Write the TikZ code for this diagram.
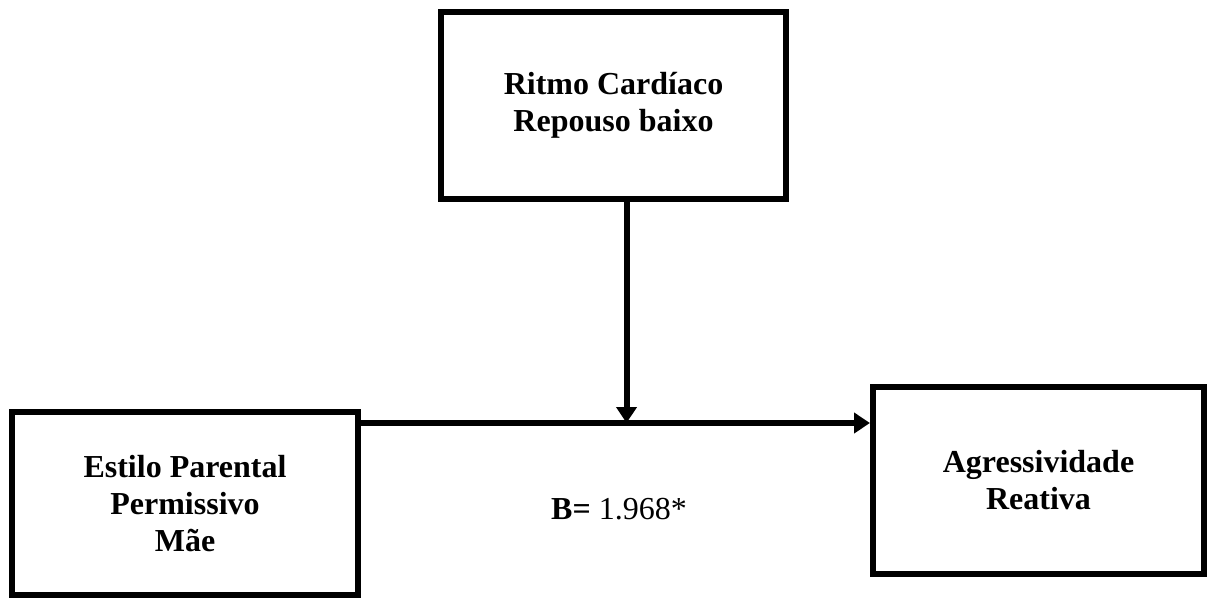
\documentclass[tikz,border=0pt]{standalone}
\usepackage{fontspec}
\setmainfont{Liberation Serif}
\usetikzlibrary{arrows.meta}

\tikzset{
  caixa/.style={draw, line width=3pt, align=center, inner sep=0pt,
    font=\fontsize{16}{18.5}\selectfont\bfseries},
  seta/.style={line width=3pt, -{Triangle[length=8pt,width=10pt]}},
}

\begin{document}
\begin{tikzpicture}[x=0.5pt,y=-0.5pt]
  \useasboundingbox (0,0) rectangle (1208,599);

  % Drawing box Ritmo (moderator)
  \node [caixa, minimum width=172.5pt, minimum height=93.5pt] (ritmo) at (613.5,105.5)
    {Ritmo Cardíaco\\Repouso baixo};

  % Drawing box Estilo (predictor)
  \node [caixa, minimum width=173pt, minimum height=91.5pt] (estilo) at (185,503.5)
    {Estilo Parental\\Permissivo\\Mãe};

  % Drawing box Agressividade (outcome)
  \node [caixa, minimum width=165.5pt, minimum height=93.5pt] (agress) at (1038.5,480.5)
    {Agressividade\\Reativa};

  % Marking junction point
  \coordinate (juncao) at (626.5,423);

  % Drawing segment estilo agress
  \draw [seta] (estilo.east |- juncao) -- (agress.west |- juncao);

  % Drawing segment ritmo juncao
  \draw [seta] (ritmo.south -| juncao) -- (juncao);

  % Marking coefficient B
  \node [anchor=base, font=\fontsize{16}{18.5}\selectfont] (coef) at (619,519)
    {\textbf{B=} 1.968*};
\end{tikzpicture}
\end{document}
